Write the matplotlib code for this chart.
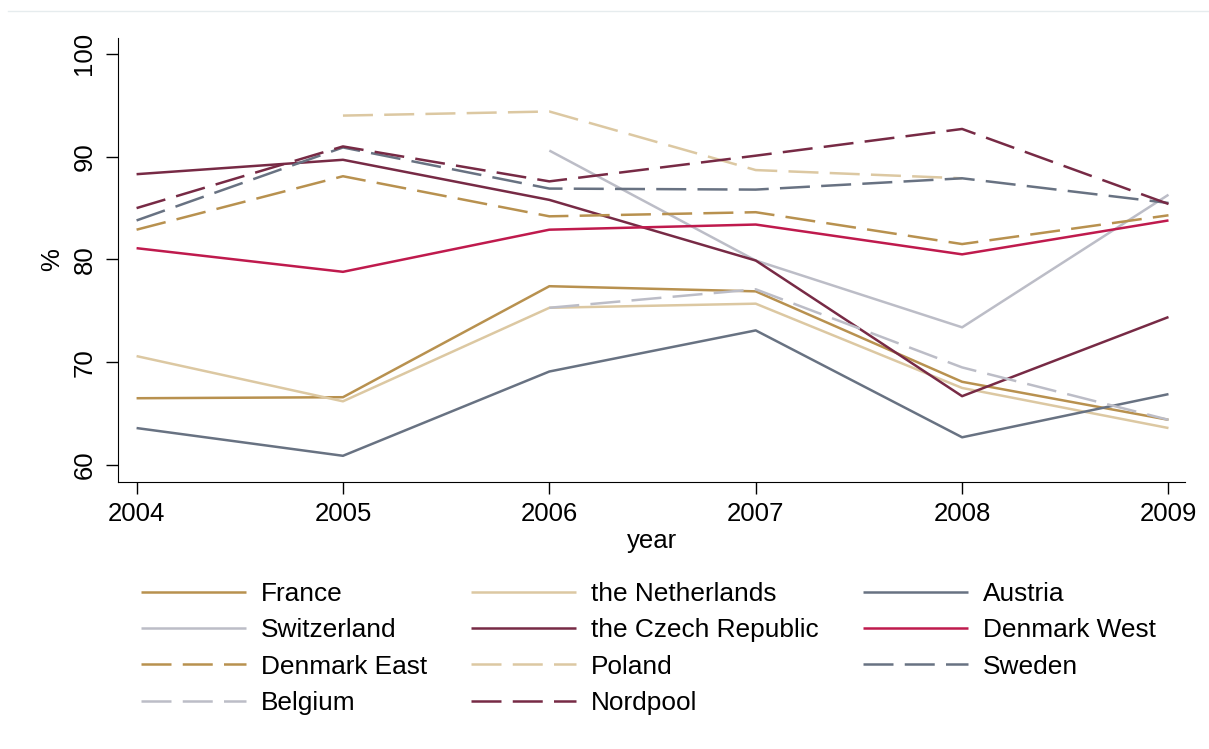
import matplotlib
matplotlib.use("Agg")
import matplotlib.pyplot as plt
from matplotlib.lines import Line2D

plt.rcParams['font.family'] = ['Liberation Sans', 'DejaVu Sans']

# share of ... per market, by year
years = [2004, 2005, 2006, 2007, 2008, 2009]

france = [66.5, 66.6, 77.4, 76.9, 68.1, 64.4]
netherlands = [70.6, 66.2, 75.3, 75.7, 67.5, 63.6]
austria = [63.6, 60.9, 69.1, 73.1, 62.7, 66.9]
switzerland = [None, None, 90.6, 79.9, 73.4, 86.3]
czech = [88.3, 89.7, 85.8, 79.9, 66.7, 74.4]
denmark_west = [81.1, 78.8, 82.9, 83.4, 80.5, 83.8]
denmark_east = [82.9, 88.1, 84.2, 84.6, 81.5, 84.3]
poland = [None, 94.0, 94.4, 88.7, 87.9, None]
sweden = [83.8, 90.9, 86.9, 86.8, 87.9, 85.5]
belgium = [None, None, 75.3, 77.1, 69.5, 64.4]
nordpool = [85.0, 91.0, 87.6, 90.1, 92.7, 85.4]

labels = ['France', 'the Netherlands', 'Austria', 'Switzerland',
          'the Czech Republic', 'Denmark West', 'Denmark East', 'Poland',
          'Sweden', 'Belgium', 'Nordpool']
series = [france, netherlands, austria, switzerland, czech, denmark_west,
          denmark_east, poland, sweden, belgium, nordpool]

palette = ['#b8914f', '#dcc8a2', '#687282', '#bcbdc7', '#772a45', '#bf1a4d']
colors = palette + palette[:5]
dashed = [False] * 6 + [True] * 5

fs = 18.5
fig = plt.figure(figsize=(12.09, 7.49), dpi=100)
ax = fig.add_axes([118 / 1209, 1 - 482 / 749, (1185 - 118) / 1209, (482 - 38) / 749])

handles = []
for vals, lab, col, dsh in zip(series, labels, colors, dashed):
    xs = [y for y, v in zip(years, vals) if v is not None]
    ys = [v for v in vals if v is not None]
    (ln,) = ax.plot(xs, ys, color=col, lw=1.8, label=lab,
                    solid_capstyle='butt', dash_capstyle='butt')
    if dsh:
        ln.set_dashes([12, 4.5])
    handles.append(ln)

ax.set_xlim(2003.91, 2009.08)
ax.set_ylim(58.35, 101.55)
ax.set_xticks(years)
ax.set_yticks([60, 70, 80, 90, 100])
ax.tick_params(axis='both', labelsize=fs, length=8.5, width=1, color='black')
ax.tick_params(axis='x', pad=6)
ax.tick_params(axis='y', pad=7)
for t in ax.get_yticklabels():
    t.set_rotation(90)
    t.set_va('center')
ax.spines['top'].set_visible(False)
ax.spines['right'].set_visible(False)
ax.set_xlabel('year', fontsize=fs, labelpad=2)
ax.set_ylabel('%', fontsize=fs, labelpad=6)

# legend in rows of three, matplotlib fills columns first
order = [0, 3, 6, 9, 1, 4, 7, 10, 2, 5, 8]
fig.legend([handles[i] for i in order], [labels[i] for i in order],
           ncol=3, loc='upper left', bbox_to_anchor=(141 / 1209, 1 - 582 / 749),
           frameon=False, fontsize=18.9, handlelength=4.0, handletextpad=0.56,
           columnspacing=1.7, labelspacing=0.47, borderpad=0, borderaxespad=0)

fig.add_artist(Line2D([8 / 1209, 1], [1 - 11 / 749, 1 - 11 / 749],
                      color='#e6ecee', lw=1, transform=fig.transFigure))

fig.savefig('out.png', dpi=100)
